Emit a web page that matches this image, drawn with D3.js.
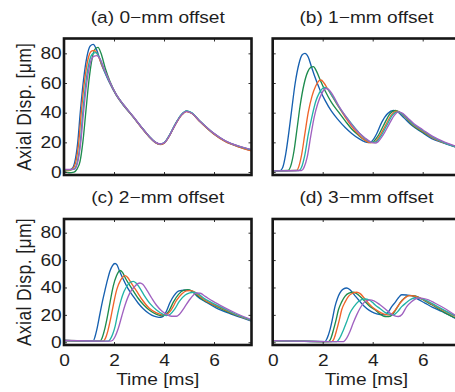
<!DOCTYPE html>
<html>
<head>
<meta charset="utf-8">
<script src="https://cdn.jsdelivr.net/npm/d3@7"></script>
<style>
  html, body { margin: 0; padding: 0; background: #fff; }
  svg { display: block; }
  text { font-family: "Liberation Sans", Arial, Helvetica, sans-serif; fill: #1e1e1e; }
</style>
</head>
<body>
<svg id="chart" width="455" height="392"></svg>
<script>
// Axial displacement traces (µm) against time (ms) for five tracked locations,
// one panel per lateral offset. Each trace is a list of [time, displacement].
const seriesColors = ["#1660b0", "#1e8c4e", "#f0642a", "#22b3a6", "#a062c0"];
const panelTitles = ["(a)  0\u2212mm offset", "(b)  1\u2212mm offset", "(c)  2\u2212mm offset", "(d)  3\u2212mm offset"];
const xTicks = [0, 2, 4, 6];
const yTicks = [0, 20, 40, 60, 80];
const xDomain = [0, 7.5];
const yDomain = [-2, 90];
const xAxisTitle = "Time [ms]";
const yAxisTitle = "Axial Disp. [\u03bcm]";

const offset0mm = [
  [[0,1.5],[0.15,1.2],[0.3,2],[0.42,6],[0.55,20],[0.65,40],[0.78,62],[0.92,78],[1.05,85],[1.17,86],[1.3,82.5],[1.5,72.5],[1.65,66.5],[1.84,59.5],[2.1,51.5],[2.4,44.5],[2.77,37],[3.1,30],[3.4,24],[3.65,20],[3.85,18.7],[4.0,19.5],[4.2,24],[4.45,32],[4.7,38.5],[4.9,41],[5.1,39.8],[5.44,34],[5.97,26],[6.44,20.8],[7.0,17],[7.5,14.5]],
  [[0,0.5],[0.2,-0.5],[0.4,0],[0.52,2],[0.64,7],[0.76,21],[0.87,40],[1.0,62],[1.13,77],[1.25,83],[1.36,84],[1.48,80],[1.65,70],[1.84,61],[2.1,52],[2.4,45],[2.77,37.3],[3.1,30.3],[3.4,24.2],[3.65,20.2],[3.85,18.8],[4.0,19.6],[4.2,24.2],[4.45,32.2],[4.7,38.7],[4.9,41.1],[5.1,39.9],[5.44,34.2],[5.97,26.2],[6.44,21],[7.0,17.2],[7.5,14.8]],
  [[0,1.2],[0.2,1],[0.34,2],[0.46,6],[0.59,20],[0.69,40],[0.82,61],[0.96,76],[1.1,81.5],[1.21,82],[1.35,79],[1.55,70.5],[1.7,65.5],[1.84,60],[2.1,51.7],[2.4,44.6],[2.77,37],[3.1,29.8],[3.4,23.8],[3.65,19.8],[3.85,18.5],[4.0,19.3],[4.2,23.8],[4.45,31.8],[4.7,38.3],[4.9,40.8],[5.1,39.6],[5.44,33.8],[5.97,25.8],[6.44,20.6],[7.0,16.8],[7.5,14.2]],
  [[0,1.5],[0.25,1.5],[0.4,2],[0.52,6],[0.65,20],[0.75,40],[0.88,61],[1.02,75],[1.16,80],[1.28,80.5],[1.42,77],[1.6,69],[1.84,60.2],[2.1,51.8],[2.4,44.8],[2.77,37.2],[3.1,30.1],[3.4,24.1],[3.65,20.1],[3.85,18.9],[4.0,19.7],[4.2,24.3],[4.45,32.3],[4.7,38.8],[4.9,41.2],[5.1,40],[5.44,34.3],[5.97,26.3],[6.44,21.1],[7.0,17.3],[7.5,15]],
  [[0,1.8],[0.25,1.8],[0.42,2],[0.54,6],[0.67,20],[0.78,40],[0.91,60],[1.05,73.5],[1.19,78],[1.31,78.5],[1.45,76],[1.62,69],[1.84,60.5],[2.1,52],[2.4,45],[2.77,37.4],[3.1,30.2],[3.4,24.2],[3.65,20.2],[3.85,18.9],[4.0,19.6],[4.2,24.1],[4.45,32],[4.7,38.5],[4.9,40.9],[5.1,39.8],[5.44,34.2],[5.97,26.4],[6.44,21.2],[7.0,17.4],[7.5,15.1]]
];

const offset1mm = [
  [[0,0.8],[0.3,1],[0.4,3],[0.52,12],[0.64,26],[0.76,42],[0.9,60],[1.05,73],[1.18,79],[1.29,80],[1.42,77.5],[1.55,71],[1.69,64],[1.9,55],[2.09,48.5],[2.35,41],[2.63,35],[2.9,30],[3.16,26],[3.45,22.5],[3.69,20.3],[3.83,19.8],[3.98,21],[4.15,25.5],[4.36,33.5],[4.6,39.5],[4.83,41.5],[5.0,40.5],[5.25,36.5],[5.56,31.5],[5.95,27],[6.36,22.5],[6.85,19.5],[7.29,17],[7.5,16]],
  [[0,0.8],[0.6,1],[0.72,4],[0.85,14],[0.98,30],[1.1,45],[1.25,59],[1.4,67.5],[1.52,70.5],[1.63,71],[1.75,68],[1.9,62],[2.09,55],[2.35,47],[2.63,40.5],[2.9,34.5],[3.16,29],[3.45,24.5],[3.69,21.4],[3.9,19.8],[4.05,20.8],[4.2,24],[4.45,32],[4.7,39.5],[4.9,41.5],[5.1,40],[5.3,37],[5.6,31.5],[6.0,27],[6.4,23],[6.9,19.5],[7.5,16]],
  [[0,0.8],[0.95,1],[1.05,4],[1.15,11],[1.28,25],[1.42,40],[1.57,51],[1.72,58],[1.85,61.5],[1.93,62],[2.05,60],[2.2,56],[2.4,50.5],[2.65,43.5],[2.9,37],[3.15,31],[3.4,26],[3.65,22],[3.9,19.8],[4.08,20.2],[4.25,23.5],[4.5,31],[4.75,38.5],[4.96,41],[5.15,39.5],[5.35,36.5],[5.6,32],[6.0,27.5],[6.4,23],[6.9,19.5],[7.5,16]],
  [[0,0.8],[1.05,1],[1.15,3],[1.28,11],[1.42,25],[1.58,38],[1.72,47.5],[1.87,53.5],[2.0,56.5],[2.09,57],[2.2,56],[2.35,52],[2.5,48],[2.72,42],[2.95,37],[3.2,31.5],[3.45,26.5],[3.7,22.5],[3.95,20],[4.12,20.3],[4.3,23.5],[4.55,31],[4.8,38.5],[5.0,40.5],[5.2,39],[5.4,36],[5.6,32.5],[6.0,28],[6.4,23.5],[6.9,19.5],[7.5,16]],
  [[0,0.8],[1.15,1],[1.25,3],[1.38,10],[1.52,24],[1.66,37],[1.8,46],[1.95,52.5],[2.05,55.5],[2.13,56.3],[2.25,55.5],[2.4,52],[2.63,45],[2.9,38],[3.16,32],[3.42,27],[3.69,23],[3.95,20],[4.1,19.5],[4.22,20.5],[4.4,24.5],[4.65,32],[4.88,38.5],[5.03,40.5],[5.2,39.5],[5.4,36.5],[5.65,32.5],[6.0,28.5],[6.4,24],[6.9,20],[7.5,16.5]]
];

const offset2mm = [
  [[0,1.3],[0.5,1],[1.0,0.7],[1.17,1],[1.24,4],[1.31,9],[1.44,21],[1.54,30],[1.64,38],[1.74,45.5],[1.84,52],[1.94,56],[2.04,57.5],[2.12,56.5],[2.22,52],[2.37,46],[2.55,39.5],[2.77,33.5],[2.97,28.5],[3.17,24.5],[3.4,21],[3.6,19],[3.8,18.2],[3.95,18.8],[4.08,22],[4.24,29],[4.4,34],[4.6,37.5],[4.8,38],[5.0,38],[5.15,37],[5.3,34],[5.71,29],[6.1,25],[6.64,21],[7.1,18],[7.5,15.5]],
  [[0,1.3],[1.0,0.8],[1.44,0.8],[1.52,3],[1.62,9],[1.71,16.4],[1.84,29],[1.97,41],[2.1,48.5],[2.24,52.4],[2.34,51],[2.48,46],[2.7,39.5],[2.95,32.5],[3.2,27],[3.45,23],[3.7,20.3],[3.9,19.3],[4.05,20],[4.2,23],[4.38,29.5],[4.58,35],[4.8,38],[4.95,38.4],[5.1,37.5],[5.3,34.5],[5.6,30.5],[6.0,27],[6.64,21.5],[7.1,18.5],[7.5,16]],
  [[0,1.3],[1.57,0.8],[1.66,3],[1.75,8],[1.84,15],[1.97,27],[2.11,38.4],[2.27,45.5],[2.44,48.7],[2.54,47.5],[2.68,43.5],[2.9,37.5],[3.15,30.5],[3.4,25],[3.7,21.5],[3.97,20],[4.12,20.5],[4.3,24],[4.5,30.5],[4.72,35.5],[4.9,37.5],[5.04,37.7],[5.2,37],[5.4,34],[5.7,30],[6.1,26.5],[6.64,22],[7.1,18.5],[7.5,16]],
  [[0,1.3],[1.77,0.8],[1.86,2.5],[1.95,6],[2.05,12],[2.15,21],[2.27,30],[2.4,37],[2.6,43],[2.77,44.5],[2.87,43.5],[3.0,40.5],[3.2,34.5],[3.45,28],[3.7,23.5],[3.95,20.5],[4.1,19.5],[4.25,20.5],[4.42,24],[4.62,30],[4.85,34.5],[5.03,36],[5.17,36.5],[5.35,35.5],[5.6,32],[5.9,29],[6.3,25.5],[6.8,21],[7.5,16]],
  [[0,1.3],[1.84,0.8],[1.95,1.5],[2.04,4],[2.17,10],[2.31,19],[2.44,27],[2.57,33.5],[2.7,38],[2.84,41],[2.95,42.8],[3.04,43.3],[3.15,42.3],[3.3,38.5],[3.5,32.5],[3.7,27],[3.9,23],[4.1,20.3],[4.3,19],[4.5,19],[4.62,20.5],[4.8,25],[5.0,30.5],[5.18,34.5],[5.3,36],[5.45,35.8],[5.65,33.5],[5.95,30],[6.4,25.5],[6.9,21],[7.5,16.5]]
];

const offset3mm = [
  [[0,1.2],[1.0,0.8],[2.09,0.5],[2.18,3],[2.29,9],[2.39,17],[2.49,26],[2.59,32],[2.69,36],[2.82,38.8],[2.96,39.6],[3.08,38.5],[3.25,35],[3.43,31],[3.65,26.5],[3.85,23.5],[4.05,21.5],[4.3,20.3],[4.49,20],[4.62,22],[4.76,26],[4.89,29],[5.03,32.5],[5.16,34.7],[5.35,34.5],[5.56,34],[5.8,31.5],[6.09,28.6],[6.4,25.5],[6.76,22.5],[7.05,20],[7.29,17.6],[7.5,16.5]],
  [[0,1.2],[2.23,0.5],[2.33,3],[2.43,9],[2.53,16],[2.63,23.7],[2.76,29.5],[2.89,33.5],[3.05,35.8],[3.23,36.5],[3.4,35],[3.55,32.5],[3.69,29.8],[3.9,26],[4.09,23.7],[4.3,20.5],[4.49,18.8],[4.65,18.8],[4.8,20.5],[4.95,24.5],[5.1,29],[5.25,32],[5.43,34],[5.6,34],[5.83,33],[6.1,30],[6.36,27.4],[6.8,22.5],[7.29,18],[7.5,17]],
  [[0,1.2],[2.36,0.5],[2.46,3],[2.56,9],[2.66,16],[2.76,23.7],[2.9,29.5],[3.03,33.5],[3.2,35.8],[3.36,36.5],[3.5,35.5],[3.65,32.5],[3.83,28.6],[4.03,25],[4.23,22.5],[4.45,20.5],[4.63,20],[4.78,21],[4.92,24],[5.05,27.5],[5.18,30.5],[5.33,33],[5.49,34],[5.65,33.8],[5.85,32.5],[6.09,30.6],[6.4,27.5],[6.8,23.5],[7.29,19],[7.5,17.5]],
  [[0,1.2],[2.56,0.5],[2.68,3],[2.83,9],[2.96,15],[3.09,21.3],[3.25,26],[3.43,29.8],[3.56,31.2],[3.69,31.6],[3.85,31],[4.0,29],[4.09,27.4],[4.3,24.5],[4.49,21.8],[4.66,20.5],[4.83,20],[4.98,22],[5.16,26],[5.35,29],[5.52,31.3],[5.69,32.3],[5.85,32],[6.09,31],[6.4,28],[6.8,24],[7.29,19.5],[7.5,18]],
  [[0,1.2],[2.83,0.5],[2.96,3],[3.09,7.8],[3.22,14],[3.36,20],[3.5,25],[3.63,28.6],[3.76,30.3],[3.89,31],[4.05,30.3],[4.29,27.4],[4.49,24.5],[4.69,21.3],[4.86,19.5],[5.03,18.8],[5.18,20.5],[5.36,26],[5.55,29.5],[5.7,31.5],[5.83,32.3],[6.0,32],[6.23,31],[6.5,28.5],[6.9,24.5],[7.29,20],[7.5,18.5]]
];

// ---- layout ----
const svg = d3.select("#chart");
const textStretch = 1.16;        // glyphs are drawn slightly wide
const plotW = 187.5;
const cols = [64, 272.7];
const rows = [{ top: 38.5, h: 136.5 }, { top: 219, h: 126 }];

const panels = [
  { title: panelTitles[0], data: offset0mm, col: 0, row: 0 },
  { title: panelTitles[1], data: offset1mm, col: 1, row: 0 },
  { title: panelTitles[2], data: offset2mm, col: 0, row: 1 },
  { title: panelTitles[3], data: offset3mm, col: 1, row: 1 }
];

const line = (x, y) => d3.line()
  .x(d => x(d[0]))
  .y(d => y(d[1]))
  .curve(d3.curveMonotoneX);

panels.forEach((p, i) => {
  const left = cols[p.col], top = rows[p.row].top, h = rows[p.row].h;
  const showY = p.col === 0, showX = p.row === 1;

  const x = d3.scaleLinear().domain(xDomain).range([0, plotW]);
  const y = d3.scaleLinear().domain(yDomain).range([h, 0]);

  const g = svg.append("g").attr("transform", `translate(${left},${top})`);

  const clipId = `clip-${i}`;
  g.append("clipPath").attr("id", clipId)
    .append("rect").attr("width", plotW).attr("height", h);

  // traces
  g.append("g").attr("clip-path", `url(#${clipId})`)
    .selectAll("path")
    .data(p.data)
    .join("path")
    .attr("d", d => line(x, y)(d))
    .attr("fill", "none")
    .attr("stroke", (d, k) => seriesColors[k])
    .attr("stroke-width", 1.35)
    .attr("stroke-linejoin", "round");

  // inward ticks on all four sides
  const styleAxis = sel => {
    sel.select(".domain").remove();
    sel.selectAll(".tick line").attr("stroke", "#333").attr("stroke-width", 1);
    sel.selectAll(".tick text")
      .attr("font-size", 16.5)
      .attr("fill", "#1e1e1e")
      .attr("font-family", '"Liberation Sans", Arial, sans-serif');
  };

  const bottom = g.append("g").attr("transform", `translate(0,${h})`)
    .call(d3.axisBottom(x).tickValues(xTicks).tickSizeInner(-3).tickSizeOuter(0)
      .tickPadding(9.3).tickFormat(showX ? d3.format("d") : () => ""))
    .call(styleAxis);
  bottom.selectAll(".tick text").attr("transform", `scale(${textStretch},1)`);

  g.append("g")
    .call(d3.axisTop(x).tickValues(xTicks).tickSizeInner(-3).tickSizeOuter(0).tickFormat(() => ""))
    .call(styleAxis);

  const leftAx = g.append("g")
    .call(d3.axisLeft(y).tickValues(yTicks).tickSizeInner(-3).tickSizeOuter(0)
      .tickPadding(2).tickFormat(showY ? d3.format("d") : () => ""))
    .call(styleAxis);
  leftAx.selectAll(".tick text").attr("transform", `scale(${textStretch},1)`);

  g.append("g").attr("transform", `translate(${plotW},0)`)
    .call(d3.axisRight(y).tickValues(yTicks).tickSizeInner(-3).tickSizeOuter(0).tickFormat(() => ""))
    .call(styleAxis);

  // frame
  g.append("rect")
    .attr("width", plotW).attr("height", h)
    .attr("fill", "none").attr("stroke", "#161616").attr("stroke-width", 2.6);

  // panel title
  g.append("text")
    .attr("transform", `translate(${plotW / 2},-16) scale(${textStretch},1)`)
    .attr("text-anchor", "middle")
    .attr("font-size", 16.5)
    .text(p.title);

  if (showX) {
    g.append("text")
      .attr("transform", `translate(${plotW / 2},${h + 40}) scale(${textStretch},1)`)
      .attr("text-anchor", "middle")
      .attr("font-size", 16.5)
      .text(xAxisTitle);
  }
  if (showY) {
    g.append("text")
      .attr("transform", `translate(${30.5 - left},${h / 2}) rotate(-90) scale(1,${textStretch})`)
      .attr("text-anchor", "middle")
      .attr("font-size", 17.5)
      .attr("letter-spacing", 0.4)
      .text(yAxisTitle);
  }
});
</script>
</body>
</html>
